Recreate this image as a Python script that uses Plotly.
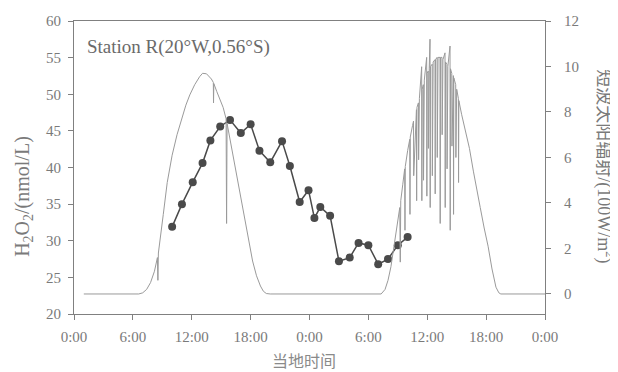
import plotly.graph_objects as go

# H2O2 concentration (left axis)
h2o2_time = [10.0, 11.0, 12.1, 13.1, 13.9, 14.9, 15.9, 17.0, 18.0, 18.9, 20.0, 21.2, 22.0,
             23.0, 23.9, 24.5, 25.1, 26.1, 27.0, 28.1, 29.0, 30.0, 31.0, 32.0, 33.0, 34.0]
h2o2_vals = [31.9, 35.0, 38.0, 40.6, 43.7, 45.6, 46.5, 44.7, 45.9, 42.3, 40.7, 43.6, 40.2,
             35.3, 36.9, 33.1, 34.6, 33.4, 27.2, 27.7, 29.7, 29.4, 26.8, 27.5, 29.4, 30.5]

# Short-wave solar radiation (right axis, 100 W/m2)
rad_time = [1.0, 6.6, 7.0, 7.4, 7.8, 8.2, 8.5, 8.55, 8.6, 8.9, 9.1, 9.5, 10.0, 10.5, 10.9,
            11.4, 11.8, 12.3, 12.8, 13.1, 13.5, 14.0, 14.2, 14.22, 14.25, 14.55, 15.2, 15.5,
            15.55, 15.6, 15.9, 16.3, 16.7, 17.1, 17.6, 17.9, 18.2, 18.6, 19.0, 19.3, 19.6, 20.0,
            31.3, 31.7, 32.0, 32.3, 32.6, 32.9, 33.2, 33.25, 33.3, 33.5,
            33.7, 33.73, 33.76, 34.0, 34.22, 34.24, 34.27, 34.5, 34.6, 34.62, 34.9, 34.92, 34.95,
            35.1, 35.12, 35.2, 35.43, 35.45, 35.48, 35.6, 35.62, 35.7, 35.94, 35.96, 35.99,
            36.1, 36.12, 36.2, 36.28, 36.30, 36.33, 36.5, 36.52,
            36.6, 36.79, 36.81, 36.84, 37.0, 37.02, 37.1, 37.3, 37.32, 37.35, 37.5, 37.52,
            37.6, 37.81, 37.83, 37.86, 38.0, 38.02,
            38.1, 38.32, 38.34, 38.37, 38.5, 38.52, 38.66, 38.68, 38.71, 38.9, 38.92,
            39.0, 39.17, 39.19, 39.22,
            39.5, 39.9, 40.3, 40.7, 41.1, 41.4, 41.8, 42.2, 42.6, 43.0, 43.3, 43.5, 48.0]
rad_vals = [0, 0, 0.05, 0.2, 0.5, 1.0, 1.6, 0.6, 1.8, 2.7, 3.5, 4.9, 6.1, 7.0, 7.6,
            8.3, 8.75, 9.2, 9.55, 9.7, 9.68, 9.45, 9.3, 8.4, 9.25, 8.9, 8.2, 7.7,
            3.1, 7.5, 6.8, 6.0, 5.1, 4.1, 2.96, 2.2, 1.45, 0.8, 0.35, 0.12, 0.02, 0,
            0, 0.2, 0.6, 1.2, 2.0, 2.9, 3.8, 1.4, 4.1, 4.8,
            5.5, 2.8, 5.6, 6.3, 6.8, 3.5, 6.9, 7.4, 7.6, 5.2, 8.1, 4.1, 8.2,
            8.4, 5.9, 8.6, 9.99, 4.1, 9.0, 9.2, 5.0, 9.4, 10.4, 4.3, 9.7,
            9.8, 6.4, 9.9, 11.2, 3.8, 10.0, 10.1, 5.2,
            10.2, 10.3, 4.4, 10.3, 10.4, 6.0, 10.4, 10.4, 3.1, 10.4, 10.4, 7.0,
            10.3, 10.6, 3.8, 10.2, 10.1, 5.5,
            10.0, 10.9, 2.8, 9.9, 9.7, 6.5, 9.6, 3.5, 9.5, 9.2, 6.0,
            9.0, 8.6, 4.9, 8.5,
            7.9, 7.1, 6.4, 5.4, 4.4, 3.8, 2.9, 2.1, 1.1, 0.3, 0.05, 0, 0]

tick_hours = [0, 6, 12, 18, 24, 30, 36, 42, 48]
tick_text = ["0:00", "6:00", "12:00", "18:00", "0:00", "6:00", "12:00", "18:00", "0:00"]
left_ticks = [20, 25, 30, 35, 40, 45, 50, 55, 60]
right_ticks = [0, 2, 4, 6, 8, 10, 12]

GRAY = "#808080"
FONT = "Liberation Serif, Noto Sans CJK SC, serif"

fig = go.Figure()
fig.add_trace(go.Scatter(x=rad_time, y=rad_vals, mode="lines", yaxis="y2",
                         line=dict(color="#9a9a9a", width=1), showlegend=False))
fig.add_trace(go.Scatter(x=h2o2_time, y=h2o2_vals, mode="lines+markers",
                         line=dict(color="#4a4a4a", width=1.5),
                         marker=dict(size=8, color="#4a4a4a"), showlegend=False))

axis_common = dict(showline=True, linecolor=GRAY, linewidth=1, showgrid=False,
                   zeroline=False, ticks="outside", ticklen=5, tickcolor=GRAY,
                   automargin=False,
                   tickfont=dict(family=FONT, size=15, color="#7a7a7a"))

fig.update_layout(
    width=618, height=372,
    margin=dict(l=66, r=81, t=13, b=66),
    paper_bgcolor="white", plot_bgcolor="white",
    xaxis=dict(range=[0, 48], tickvals=tick_hours, ticktext=tick_text, mirror=True,
               ticklabelstandoff=4, **axis_common),
    yaxis=dict(range=[20, 60], tickvals=left_ticks, ticklabelstandoff=4, **axis_common),
    yaxis2=dict(range=[-0.88, 12], tickvals=right_ticks, overlaying="y", side="right",
                ticklabelstandoff=10, **axis_common),
    annotations=[
        dict(text="Station R(20°W,0.56°S)", xref="paper", yref="paper", x=0.023, y=0.911,
             xanchor="left", yanchor="middle", showarrow=False,
             font=dict(family=FONT, size=19, color="#6a6a6a")),
        dict(text="H<sub>2</sub>O<sub>2</sub>/(nmol/L)", xref="paper", yref="paper",
             x=-0.106, y=0.40, xanchor="center", yanchor="middle", textangle=-90,
             showarrow=False, font=dict(family=FONT, size=20, color="#7a7a7a")),
        dict(text="短波太阳辐射/(100W/m<sup>2</sup>)", xref="paper", yref="paper",
             x=1.127, y=0.505, xanchor="center", yanchor="middle", textangle=90,
             showarrow=False, font=dict(family=FONT, size=18, color="#7a7a7a")),
        dict(text="当地时间", xref="paper", yref="paper", x=0.488, y=-0.156,
             xanchor="center", yanchor="middle", showarrow=False,
             font=dict(family="Noto Sans CJK SC", size=16, color="#8a8a8a")),
    ],
)

fig.write_html("out.html")
